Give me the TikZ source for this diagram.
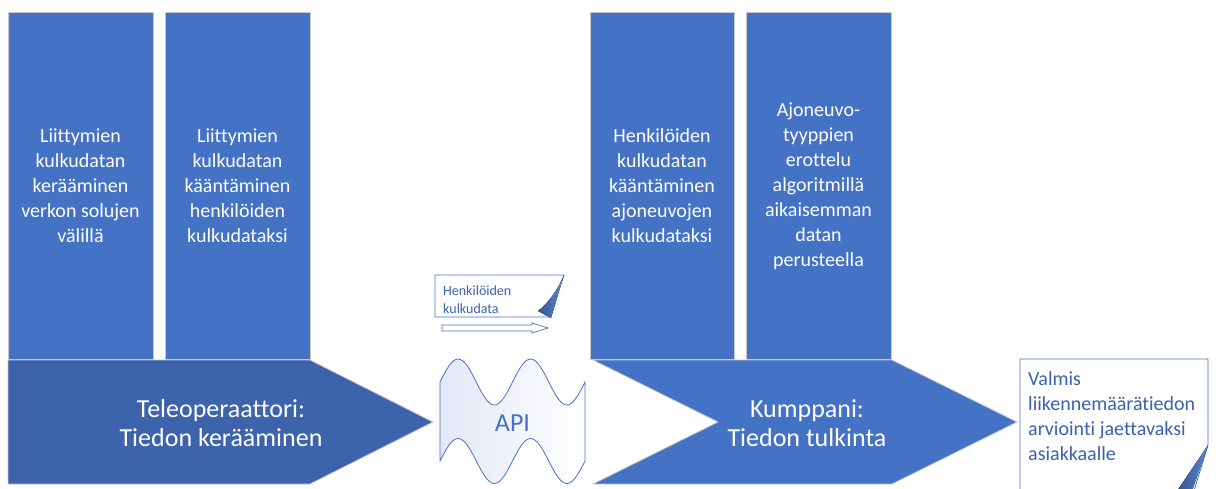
\documentclass[tikz,border=0pt]{standalone}
\usepackage{fontspec}
\usetikzlibrary{calc}
\setmainfont{Carlito}[Ligatures=NoCommon]
\begin{document}
\definecolor{boxblue}{HTML}{4472C4}
\definecolor{darkblue}{HTML}{3D63AD}
\definecolor{curlblue}{HTML}{2F5597}
\definecolor{notetext}{HTML}{3B62B0}
\definecolor{edgegray}{HTML}{C9C9C9}
\definecolor{tapetint}{HTML}{E3E8F5}
\begin{tikzpicture}[x=1pt,y=-1pt,
  stepbox/.style={fill=boxblue,draw=edgegray,line width=0.8pt},
  steptext/.style={text=white,align=center,font=\fontsize{20}{25}\selectfont,inner sep=0pt},
  phasetext/.style={text=white,align=center,font=\fontsize{26}{29}\selectfont,inner sep=0pt},
  notetextstyle/.style={text=notetext,align=left,inner sep=0pt},
  outline/.style={draw=boxblue,line width=0.8pt},
  curl/.style={left color=curlblue,right color=boxblue!85!white}]
\useasboundingbox (0,0) rectangle (1216,488);

% collection steps
\draw[stepbox] (8,12) rectangle (153,359);
\node[steptext] (s1) at (80.5,186) {Liittymien\\kulkudatan\\kerääminen\\verkon solujen\\välillä};
\draw[stepbox] (165,12) rectangle (310,359);
\node[steptext] (s2) at (237.5,186) {Liittymien\\kulkudatan\\kääntäminen\\henkilöiden\\kulkudataksi};

% interpretation steps
\draw[stepbox] (590,12) rectangle (734,359);
\node[steptext] (s3) at (662,186) {Henkilöiden\\kulkudatan\\kääntäminen\\ajoneuvojen\\kulkudataksi};
\draw[stepbox] (746,12) rectangle (891,359);
\node[steptext] (s4) at (818.5,186) {Ajoneuvo-\\tyyppien\\erottelu\\algoritmillä\\aikaisemman\\datan\\perusteella};

% phase arrows
\draw[fill=darkblue,draw=edgegray,line width=0.8pt]
  (8,360) -- (310,360) -- (433,422) -- (310,484) -- (8,484) -- cycle;
\node[phasetext] (p1) at (221,423) {Teleoperaattori:\\Tiedon kerääminen};
\draw[fill=boxblue,draw=edgegray,line width=0.8pt]
  (593,360) -- (892,360) -- (1017,422) -- (892,484) -- (593,484) -- (718,422) -- cycle;
\node[phasetext] (p2) at (807,423) {Kumppani:\\Tiedon tulkinta};

% API tape
\draw[outline,left color=tapetint,right color=white]
  (440,382) sin (458.1,359) cos (476.25,382) sin (494.4,405) cos (512.5,382)
  sin (530.6,359) cos (548.75,382) sin (566.9,405) cos (585,382)
  -- (585,461) sin (566.9,483.5) cos (548.75,461) sin (530.6,438.5) cos (512.5,461)
  sin (494.4,483.5) cos (476.25,461) sin (458.1,438.5) cos (440,461) -- cycle;
\node[text=boxblue,font=\fontsize{26}{30}\selectfont,inner sep=0pt] (api) at (512.5,423) {API};

% data note with hollow arrow
\draw[outline,fill=white] (435,275) -- (564,275) -- (549,317) -- (435,317) -- cycle;
\fill[curl] (564,275) .. controls (557,291) and (549,302) .. (538,311) -- (551,318) -- cycle;
\node[notetextstyle,font=\fontsize{14}{18}\selectfont,anchor=west] (dn) at (443,300) {Henkilöiden\\kulkudata};
\coordinate (ha) at (442,328);
\coordinate (hb) at (548,328);
\draw[outline,fill=white,line width=0.7pt]
  ($(ha)+(0,-3)$) -- (532,325) -- (532,323) -- (hb) -- (532,333) -- (532,331) -- ($(ha)+(0,3)$) -- cycle;

% result note
\begin{scope}
\clip (1000,340) rectangle (1216,488);
\draw[outline,fill=white] (1020,520) -- (1020,359) -- (1208,359) -- (1208,445) -- (1185,520);
\fill[curl] (1208,445) -- (1177,491) -- (1192,491) -- cycle;
\end{scope}
\node[notetextstyle,font=\fontsize{20}{25}\selectfont,anchor=west] (res) at (1028,416) {Valmis\\liikennemäärätiedon\\arviointi jaettavaksi\\asiakkaalle};
\end{tikzpicture}
\end{document}
